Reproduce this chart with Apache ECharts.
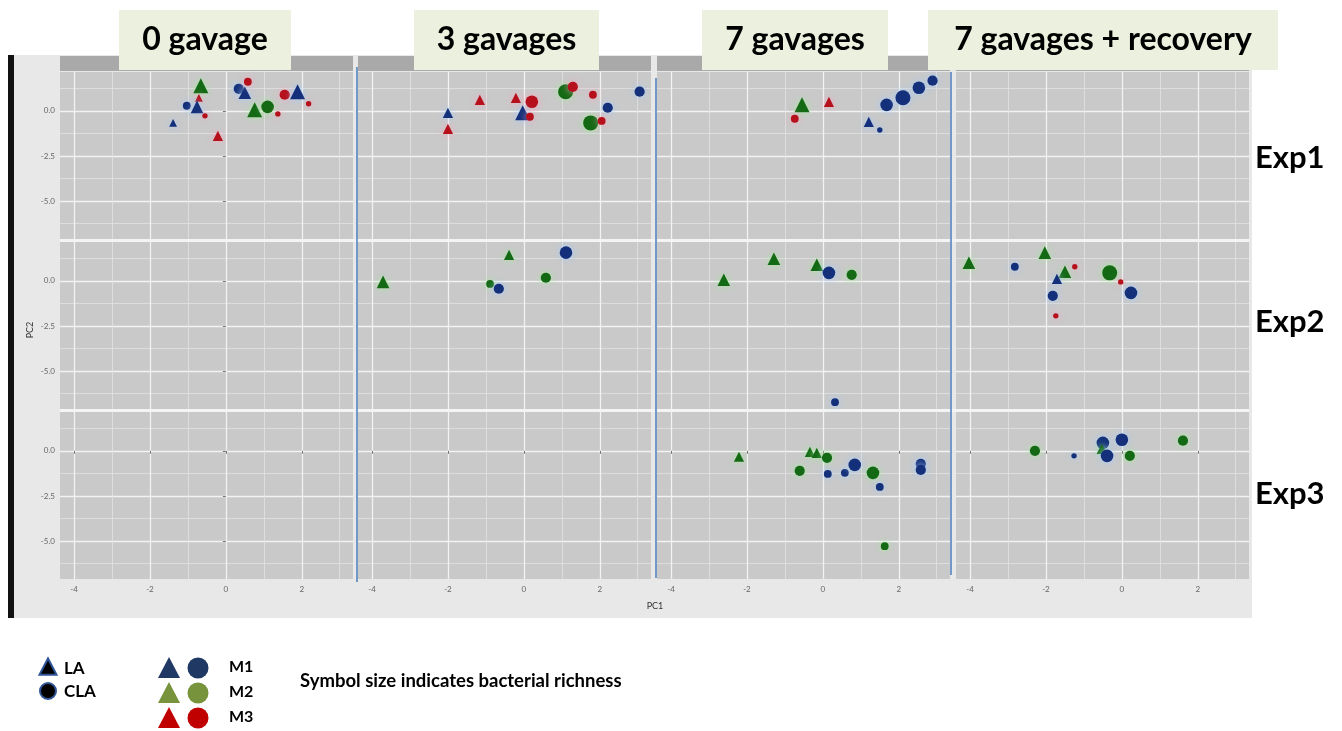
<!DOCTYPE html>
<html>
<head>
<meta charset="utf-8">
<title>PCA by gavage</title>
<script src="https://cdn.jsdelivr.net/npm/echarts@6.0.0/dist/echarts.min.js"></script>
<style>
    html, body { margin: 0; padding: 0; background: #fff; }
    #chart { width: 1342px; height: 731px; }
</style>
</head>
<body>
<div id="chart"></div>
<script>
var gavages = ['0 gavage', '3 gavages', '7 gavages', '7 gavages + recovery'];
var experiments = ['Exp1', 'Exp2', 'Exp3'];
var pc1Ticks = [-4, -2, 0, 2];
var pc1Minor = [-3, -1, 1, 3];
var pc2Ticks = [0, -2.5, -5];
var pc2Minor = [1.25, -1.25, -3.75, -6.25];
var mice = ['M1', 'M2', 'M3'];
var treatments = ['LA', 'CLA'];

// [PC1, PC2, treatment, mouse, richness]
var exp1Gav0 = [
    [-0.66, 1.39, 'LA', 'M2', 5], [-0.71, 0.72, 'LA', 'M3', 2], [-1.03, 0.28, 'CLA', 'M1', 2],
    [-0.76, 0.22, 'LA', 'M1', 4], [-0.55, -0.28, 'CLA', 'M3', 1], [-1.39, -0.67, 'LA', 'M1', 2],
    [-0.21, -1.39, 'LA', 'M3', 3], [0.34, 1.22, 'CLA', 'M1', 3], [0.5, 1.0, 'LA', 'M1', 4],
    [0.58, 1.61, 'CLA', 'M3', 2], [0.76, 0.06, 'LA', 'M2', 5], [1.1, 0.22, 'CLA', 'M2', 4],
    [1.37, -0.17, 'CLA', 'M3', 1], [1.55, 0.89, 'CLA', 'M3', 3], [1.89, 1.06, 'LA', 'M1', 5],
    [2.18, 0.39, 'CLA', 'M3', 1]
];
var exp1Gav3 = [
    [-2.0, -0.11, 'LA', 'M1', 3], [-2.0, -1.0, 'LA', 'M3', 3], [-1.16, 0.61, 'LA', 'M3', 3],
    [-0.21, 0.72, 'LA', 'M3', 3], [0.21, 0.5, 'CLA', 'M3', 4], [-0.03, -0.11, 'LA', 'M1', 5],
    [0.16, -0.33, 'CLA', 'M3', 2], [1.1, 1.06, 'CLA', 'M2', 5], [1.29, 1.33, 'CLA', 'M3', 3],
    [1.82, 0.89, 'CLA', 'M3', 2], [2.21, 0.17, 'CLA', 'M1', 3], [1.76, -0.67, 'CLA', 'M2', 5],
    [2.05, -0.56, 'CLA', 'M3', 2], [3.05, 1.06, 'CLA', 'M1', 3]
];
var exp1Gav7 = [
    [-0.55, 0.33, 'LA', 'M2', 5], [-0.74, -0.44, 'CLA', 'M3', 2], [0.16, 0.5, 'LA', 'M3', 3],
    [1.21, -0.61, 'LA', 'M1', 3], [1.5, -1.06, 'CLA', 'M1', 1], [1.68, 0.33, 'CLA', 'M1', 4],
    [2.11, 0.72, 'CLA', 'M1', 5], [2.53, 1.28, 'CLA', 'M1', 4], [2.89, 1.67, 'CLA', 'M1', 3]
];
var exp1Rec = [];

var exp2Gav0 = [];
var exp2Gav3 = [
    [-3.71, -0.06, 'LA', 'M2', 4], [-0.39, 1.44, 'LA', 'M2', 3], [-0.89, -0.17, 'CLA', 'M2', 2],
    [-0.66, -0.44, 'CLA', 'M1', 3], [0.58, 0.17, 'CLA', 'M2', 3], [1.11, 1.56, 'CLA', 'M1', 4]
];
var exp2Gav7 = [
    [-2.61, 0.06, 'LA', 'M2', 4], [-1.29, 1.22, 'LA', 'M2', 4], [-0.16, 0.89, 'LA', 'M2', 4],
    [0.16, 0.44, 'CLA', 'M1', 4], [0.76, 0.33, 'CLA', 'M2', 3], [0.32, -6.72, 'CLA', 'M1', 2]
];
var exp2Rec = [
    [-4.03, 1.0, 'LA', 'M2', 4], [-2.82, 0.78, 'CLA', 'M1', 2], [-2.03, 1.56, 'LA', 'M2', 4],
    [-1.5, 0.5, 'LA', 'M2', 4], [-1.24, 0.78, 'CLA', 'M3', 1], [-1.71, 0.11, 'LA', 'M1', 3],
    [-1.82, -0.83, 'CLA', 'M1', 3], [-1.74, -1.94, 'CLA', 'M3', 1], [-0.32, 0.44, 'CLA', 'M2', 5],
    [-0.03, -0.06, 'CLA', 'M3', 1], [0.24, -0.67, 'CLA', 'M1', 4]
];

var exp3Gav0 = [];
var exp3Gav3 = [];
var exp3Gav7 = [
    [-2.21, -0.33, 'LA', 'M2', 3], [-0.34, -0.06, 'LA', 'M2', 3], [-0.16, -0.11, 'LA', 'M2', 3],
    [0.11, -0.39, 'CLA', 'M2', 3], [-0.61, -1.11, 'CLA', 'M2', 3], [0.13, -1.28, 'CLA', 'M1', 2],
    [0.58, -1.22, 'CLA', 'M1', 2], [0.84, -0.78, 'CLA', 'M1', 4], [1.32, -1.22, 'CLA', 'M2', 4],
    [1.5, -2.0, 'CLA', 'M1', 2], [1.63, -5.28, 'CLA', 'M2', 2], [2.58, -0.72, 'CLA', 'M1', 3],
    [2.58, -1.06, 'CLA', 'M1', 3]
];
var exp3Rec = [
    [-2.29, 0.0, 'CLA', 'M2', 3], [-1.26, -0.28, 'CLA', 'M1', 1], [-0.5, 0.44, 'CLA', 'M1', 4],
    [-0.53, 0.11, 'LA', 'M2', 3], [-0.39, -0.28, 'CLA', 'M1', 4], [0.0, 0.61, 'CLA', 'M1', 4],
    [0.21, -0.28, 'CLA', 'M2', 3], [1.61, 0.56, 'CLA', 'M2', 3]
];

var panels = [
    [exp1Gav0, exp1Gav3, exp1Gav7, exp1Rec],
    [exp2Gav0, exp2Gav3, exp2Gav7, exp2Rec],
    [exp3Gav0, exp3Gav3, exp3Gav7, exp3Rec]
];

var colLeft = [60, 358, 657, 956];
var rowTop = [72, 242, 412];
var panelW = 293;
var panelH = 167;
var fontName = 'Lato, "Open Sans", sans-serif';

var pointColor = { M1: '#14307a', M2: '#146914', M3: '#b5101c' };
var haloColor = { M1: 'rgba(165,205,255,0.95)', M2: 'rgba(160,240,150,0.85)', M3: 'rgba(255,165,190,0.85)' };
var legendColor = { M1: '#1f3864', M2: '#77933c', M3: '#c00000' };

var chart = echarts.init(document.getElementById('chart'));

var grids = [];
var xAxes = [];
var yAxes = [];
var series = [];

// major axes first (index = row * 4 + col), minor axes after
for (var r = 0; r < 3; r++) {
    for (var c = 0; c < 4; c++) {
        grids.push({
            left: colLeft[c], top: rowTop[r], width: panelW, height: panelH,
            show: true, backgroundColor: '#c9c9c9', borderWidth: 0
        });
        xAxes.push({
            type: 'value', gridIndex: r * 4 + c, position: 'bottom',
            min: -4.37, max: 3.35,
            axisLine: { show: false },
            axisTick: { show: r === 2, customValues: pc1Ticks, length: 3, lineStyle: { color: '#777' } },
            axisLabel: { show: r === 2, customValues: pc1Ticks, fontSize: 8, color: '#666', margin: 6, fontFamily: fontName },
            splitLine: { show: true, lineStyle: { color: '#f2f2f2', width: 1.3 } }
        });
        yAxes.push({
            type: 'value', gridIndex: r * 4 + c, position: 'left',
            min: -7.1, max: 2.15,
            axisLine: { show: false },
            axisTick: { show: c === 0, customValues: pc2Ticks, length: 3, lineStyle: { color: '#777' } },
            axisLabel: {
                show: c === 0, customValues: pc2Ticks, fontSize: 8, color: '#666', margin: 5, fontFamily: fontName,
                formatter: function (v) { return v.toFixed(1); }
            },
            splitLine: { show: true, lineStyle: { color: '#f2f2f2', width: 1.3 } }
        });
        series.push({
            type: 'scatter',
            xAxisIndex: r * 4 + c,
            yAxisIndex: r * 4 + c,
            symbolSize: function (val) {
                return 3 + val[2] * 2.4;
            },
            data: panels[r][c].map(function (p) {
                return {
                    value: [p[0], p[1], p[4]],
                    symbol: p[2] === 'LA' ? 'triangle' : 'circle',
                    itemStyle: {
                        color: pointColor[p[3]],
                        opacity: 1,
                        shadowBlur: 7,
                        shadowColor: haloColor[p[3]]
                    }
                };
            }),
            silent: true
        });
    }
}
for (var i = 0; i < 12; i++) {
    xAxes.push({
        type: 'value', gridIndex: i, position: 'top', min: -4.37, max: 3.35,
        axisLine: { show: false }, axisLabel: { show: false },
        axisTick: { show: false, customValues: pc1Minor },
        splitLine: { show: true, lineStyle: { color: '#e2e2e2', width: 0.8 } }
    });
    yAxes.push({
        type: 'value', gridIndex: i, position: 'right', min: -7.1, max: 2.15,
        axisLine: { show: false }, axisLabel: { show: false },
        axisTick: { show: false, customValues: pc2Minor },
        splitLine: { show: true, lineStyle: { color: '#e2e2e2', width: 0.8 } }
    });
}

var graphics = [];
// plot background and left bar
graphics.push({ type: 'rect', z: -100, shape: { x: 14, y: 55, width: 1238, height: 563 }, style: { fill: '#e8e8e8' } });
graphics.push({ type: 'rect', z: -99, shape: { x: 8, y: 55, width: 6, height: 563 }, style: { fill: '#111' } });
graphics.push({ type: 'rect', z: -99, shape: { x: 60, y: 239, width: 1189, height: 3 }, style: { fill: '#f4f4f4' } });
graphics.push({ type: 'rect', z: -99, shape: { x: 60, y: 409, width: 1189, height: 3 }, style: { fill: '#f4f4f4' } });
// column strips
colLeft.forEach(function (x) {
    graphics.push({ type: 'rect', z: -99, shape: { x: x, y: 56, width: panelW, height: 15 }, style: { fill: '#a9a9a9' } });
});
// axis titles
graphics.push({ type: 'text', x: 655, y: 606, style: { text: 'PC1', fill: '#333', align: 'center', verticalAlign: 'middle', font: '9px ' + fontName } });
graphics.push({ type: 'text', x: 30, y: 330, rotation: Math.PI / 2, style: { text: 'PC2', fill: '#333', align: 'center', verticalAlign: 'middle', font: '9px ' + fontName } });
// blue separators
[[357, 67, 582], [656, 78, 578], [951, 72, 575]].forEach(function (l) {
    graphics.push({ type: 'line', z: 50, shape: { x1: l[0], y1: l[1], x2: l[0], y2: l[2] }, style: { stroke: '#4a7ebb', lineWidth: 1.5 } });
});
// gavage label boxes
var boxes = [[119, 172], [414, 185], [702, 186], [928, 350]];
gavages.forEach(function (g, i) {
    var b = boxes[i];
    graphics.push({ type: 'rect', z: 60, shape: { x: b[0], y: 10, width: b[1], height: 60 }, style: { fill: '#ebf1de' } });
    graphics.push({
        type: 'text', z: 61, x: b[0] + b[1] / 2, y: 40,
        style: { text: g, font: 'bold 32px ' + fontName, fill: '#000', align: 'center', verticalAlign: 'middle' }
    });
});
// experiment labels
var expY = [158, 322, 494];
experiments.forEach(function (e, i) {
    graphics.push({
        type: 'text', z: 61, x: 1255, y: expY[i],
        style: { text: e, font: 'bold 31px ' + fontName, fill: '#000', align: 'left', verticalAlign: 'middle' }
    });
});
// legend
function tri(cx, cy, s) {
    return [[cx - s / 2, cy + s * 0.45], [cx, cy - s * 0.5], [cx + s / 2, cy + s * 0.45]];
}
graphics.push({ type: 'polygon', shape: { points: tri(48, 667, 17) }, style: { fill: '#000', stroke: '#2f5597', lineWidth: 2 } });
graphics.push({ type: 'circle', shape: { cx: 48, cy: 691, r: 8 }, style: { fill: '#000', stroke: '#2f5597', lineWidth: 2 } });
graphics.push({ type: 'text', x: 64, y: 669, style: { text: treatments[0], font: 'bold 17px ' + fontName, fill: '#000', verticalAlign: 'middle' } });
graphics.push({ type: 'text', x: 64, y: 692, style: { text: treatments[1], font: 'bold 17px ' + fontName, fill: '#000', verticalAlign: 'middle' } });
mice.forEach(function (m, i) {
    var cy = 668 + i * 25;
    graphics.push({ type: 'polygon', shape: { points: tri(169, cy, 22) }, style: { fill: legendColor[m] } });
    graphics.push({ type: 'circle', shape: { cx: 198, cy: cy, r: 10.5 }, style: { fill: legendColor[m] } });
    graphics.push({ type: 'text', x: 229, y: cy - 1, style: { text: m, font: 'bold 16px ' + fontName, fill: '#000', verticalAlign: 'middle' } });
});
graphics.push({ type: 'text', x: 300, y: 681, style: { text: 'Symbol size indicates bacterial richness', font: 'bold 18.5px ' + fontName, fill: '#000', verticalAlign: 'middle' } });

chart.setOption({
    animation: false,
    backgroundColor: '#fff',
    grid: grids,
    xAxis: xAxes,
    yAxis: yAxes,
    series: series,
    graphic: graphics
});
</script>
</body>
</html>
